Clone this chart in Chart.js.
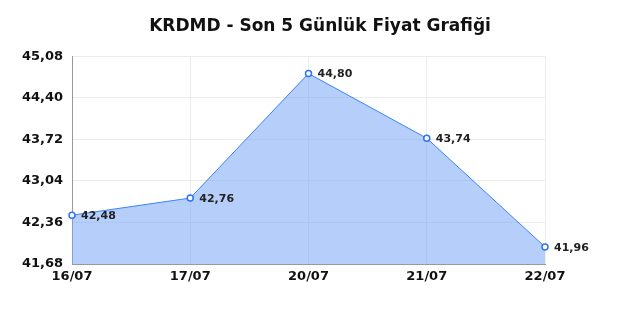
<!DOCTYPE html>
<html>
<head>
<meta charset="utf-8">
<script src="https://cdn.jsdelivr.net/npm/chart.js@4.4.0/dist/chart.umd.min.js"></script>
<style>
  html, body { margin: 0; padding: 0; background: #fff; }
  #wrap { width: 640px; height: 320px; }
</style>
</head>
<body>
<div id="wrap"><canvas id="priceChart" width="640" height="320"></canvas></div>
<script>
// chart data
const days = ["16/07", "17/07", "20/07", "21/07", "22/07"];
const prices = [42.48, 42.76, 44.80, 43.74, 41.96];
const yTicks = [41.68, 42.36, 43.04, 43.72, 44.40, 45.08];

const fmt = (v) => v.toFixed(2).replace(".", ",");

// draws the value next to each point
const pointLabels = {
  id: "pointLabels",
  afterDatasetsDraw(chart) {
    const ctx = chart.ctx;
    const meta = chart.getDatasetMeta(0);
    ctx.save();
    ctx.font = "bold 11px 'DejaVu Sans'";
    ctx.fillStyle = "#222";
    ctx.textBaseline = "middle";
    ctx.textAlign = "left";
    meta.data.forEach((pt, i) => {
      ctx.fillText(fmt(prices[i]), pt.x + 9, pt.y + 1);
    });
    ctx.restore();
  },
};

const ctx = document.getElementById("priceChart").getContext("2d");
new Chart(ctx, {
  type: "line",
  data: {
    labels: days,
    datasets: [
      {
        data: prices,
        borderColor: "#3b82f6",
        backgroundColor: "rgba(120,165,245,0.55)",
        borderWidth: 1,
        tension: 0,
        fill: "start",
        pointRadius: 3,
        pointBorderWidth: 1.5,
        pointBackgroundColor: "#fff",
        pointBorderColor: "#2f74f0",
      },
    ],
  },
  options: {
    responsive: false,
    animation: false,
    layout: { padding: 0 },
    plugins: {
      legend: { display: false },
      tooltip: { enabled: false },
      title: {
        display: true,
        text: "KRDMD - Son 5 Günlük Fiyat Grafiği",
        color: "#111",
        font: { family: "DejaVu Sans", size: 17, weight: "bold" },
        padding: { top: 16, bottom: 20 },
      },
    },
    scales: {
      x: {
        offset: false,
        grid: { color: "#ececec", drawTicks: false },
        border: { color: "#999", width: 1 },
        ticks: {
          color: "#111",
          padding: 5,
          maxRotation: 0,
          font: { family: "DejaVu Sans", size: 13, weight: "bold" },
        },
        afterFit(scale) { scale.height = 56; },
      },
      y: {
        min: yTicks[0],
        max: yTicks[yTicks.length - 1],
        afterBuildTicks(scale) {
          scale.ticks = yTicks.map((v) => ({ value: v }));
        },
        grid: { color: "#ececec", drawTicks: false },
        border: { color: "#999", width: 1 },
        ticks: {
          color: "#111",
          padding: 9,
          font: { family: "DejaVu Sans", size: 13, weight: "bold" },
          callback: (v) => fmt(v),
        },
        afterFit(scale) { scale.width = 72; },
      },
      // empty right-hand space, keeps the title centred on the page
      spacer: {
        position: "right",
        min: 0,
        max: 1,
        grid: { display: false, drawTicks: false },
        border: { display: false },
        ticks: { display: false },
        afterFit(scale) { scale.width = 95; },
      },
    },
  },
  plugins: [pointLabels],
});
</script>
</body>
</html>
